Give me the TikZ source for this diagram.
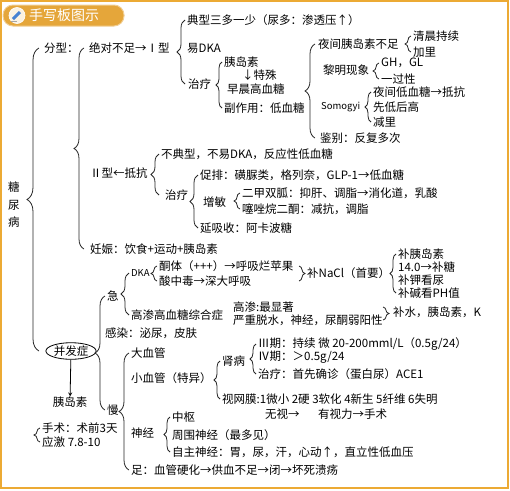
\documentclass[tikz,border=0pt]{standalone}
\usepackage{fontspec}
\setmainfont{Noto Sans CJK SC}
\usetikzlibrary{decorations.pathreplacing,shapes.geometric}
\definecolor{frameorange}{RGB}{236,170,52}
\definecolor{pillorange}{RGB}{229,166,58}
\definecolor{penblue}{RGB}{70,130,210}
\tikzset{
  txt/.style={anchor=west,inner sep=0pt,font=\fontsize{11.5}{13}\selectfont},
  brc/.style={decorate,decoration={brace,amplitude=8pt},draw=black!85,line width=0.8pt},
  brcS/.style={brc,decoration={brace,amplitude=6pt}},
  brcL/.style={brc,decoration={brace,amplitude=10pt}},
  brcX/.style={brc,decoration={brace,amplitude=12pt}},
  small/.style={font=\fontsize{9.5}{11}\selectfont},
}
\begin{document}
\begin{tikzpicture}[x=1pt,y=-1pt,every node/.style={txt}]
\useasboundingbox (0,0) rectangle (510,490);
% frame and title
\draw[frameorange,line width=2pt] (1,1) rectangle (508,488);
\draw[fill=pillorange,draw=pillorange!55!white,line width=1pt,rounded corners=10pt] (3,5) rectangle (124,26);
\draw[fill=pillorange!15!white,draw=white,line width=0.6pt] (17,15.5) circle (8);
\draw[penblue,line width=3pt] (13,19) -- (20,12);
\draw[gray!70,line width=0.8pt] (11,21) -- (17,21);
\node[font=\fontsize{14}{16}\selectfont,text=white] (ttl) at (29,15.5) {手写板图示};

\node[align=center,font=\fontsize{11.5}{17.5}\selectfont] (tnb) at (8,205) {糖\\尿\\病};
\node (fx) at (44,48) {分型：};
\node[draw,ellipse,anchor=center,inner sep=0.5pt,line width=0.8pt] (bfz) at (71,351) {并发症};
\draw[brcX] ([xshift=-5]fx.west |- bfz.west) -- ([xshift=-5]fx.west);

% 分型
\node (jd) at (89,48) {绝对不足→Ⅰ型};
\node (er) at (90,173) {Ⅱ型←抵抗};
\node (rs) at (90,249) {妊娠：饮食+运动+胰岛素};
\draw[brcL] ([xshift=-5]jd.west |- rs.west) -- ([xshift=-5]jd.west);

\node (dx) at (187,20) {典型三多一少（尿多：渗透压↑）};
\node (ydka) at (187,48) {易DKA};
\node (zl1) at (188,84) {治疗};
\draw[brc] ([xshift=-2]dx.west |- zl1.west) -- ([xshift=-2]dx.west);

\node (yds) at (224,62) {胰岛素};
\node (ts) at (242,75) {↓特殊};
\node (zc) at (227,89) {早晨高血糖};
\node (fzy) at (224,108) {副作用：低血糖};
\draw[brcS] ([xshift=-2]yds.west |- fzy.west) -- ([xshift=-2]yds.west);

\node (yj) at (318,44) {夜间胰岛素不足};
\node (lm) at (323,70) {黎明现象};
\node[small] (sm) at (321,107) {Somogyi};
\node (jb) at (320,138) {鉴别：反复多次};
\draw[brcL] ([xshift=-3]yj.west |- jb.west) -- ([xshift=-3]yj.west);

\node (qc) at (413,36) {清晨持续};
\node (jl) at (413,52) {加里};
\draw[brcS] ([xshift=-2]qc.west |- jl.west) -- ([xshift=-2]qc.west);
\node (gh) at (381,63) {GH，GL};
\node (ygx) at (381,79) {一过性};
\draw[brcS] ([xshift=-2]gh.west |- ygx.west) -- ([xshift=-2]gh.west);
\node (yjd) at (373,92) {夜间低血糖→抵抗};
\node (xd) at (373,107) {先低后高};
\node (jl2) at (373,122) {减里};
\draw[brcS] ([xshift=-2]yjd.west |- jl2.west) -- ([xshift=-2]yjd.west);

\node (bdx) at (161,154) {不典型，不易DKA，反应性低血糖};
\node (zl2) at (165,195) {治疗};
\draw[brc] ([xshift=-2]bdx.west |- zl2.west) -- ([xshift=-2]bdx.west);

\node (cp) at (200,175) {促排：磺脲类，格列奈，GLP-1→低血糖};
\node (zm) at (203,202) {增敏};
\node (ycs) at (200,228) {延吸收：阿卡波糖};
\draw[brc] ([xshift=-2]cp.west |- ycs.west) -- ([xshift=-2]cp.west);
\node (ej) at (242,193) {二甲双胍：抑肝、调脂→消化道，乳酸};
\node (st) at (242,209) {噻唑烷二酮：减抗，调脂};
\draw[brcS] ([xshift=-2]ej.west |- st.west) -- ([xshift=-2]ej.west);

% 并发症
\node (ji) at (107,296) {急};
\node (gr) at (105,333) {感染：泌尿，皮肤};
\node (man) at (107,410) {慢};
\draw[brcL] ([xshift=-2]ji.west |- man.west) -- ([xshift=-2]ji.west);

\node[anchor=center] (yds2) at (70,402) {胰岛素};
\draw[-stealth,line width=0.8pt] (bfz) -- (yds2);
\node (ss) at (42,428) {手术：术前3天};
\node (yjz) at (42,442) {应激 7.8-10};
\draw[brcS] ([xshift=-2]ss.west |- yjz.west) -- ([xshift=-2]ss.west);

\node[small] (dka) at (131,273) {DKA};
\node (gs) at (131,315) {高渗高血糖综合症};
\draw[brc] ([xshift=-2]gs.west |- gs.west) -- ([xshift=-2]gs.west |- dka.west);
\node (tt) at (159,266) {酮体（+++）→呼吸烂苹果};
\node (szd) at (159,281) {酸中毒→深大呼吸};
\draw[brcS] ([xshift=-2]tt.west |- szd.west) -- ([xshift=-2]tt.west);
\node (na) at (307,273) {补NaCl（首要）};
\draw[brcS] ([xshift=-8]na.west |- tt.west) -- ([xshift=-8]na.west |- szd.west);
\node (bys) at (398,254) {补胰岛素};
\node (bt) at (398,267) {14.0→补糖};
\node (bjn) at (398,280) {补钾看尿};
\node (bjj) at (398,293) {补碱看PH值};
\draw[brcS] ([xshift=-2]bys.west |- bjj.west) -- ([xshift=-2]bys.west);
\node (gszx) at (233,307) {高渗:最显著};
\node (yzts) at (233,320) {严重脱水，神经，尿酮弱阳性};
\node (bs) at (393,312) {补水，胰岛素，K};
\draw[brcS] ([xshift=-10]bs.west |- gszx.west) -- ([xshift=-10]bs.west |- yzts.west);

\node (dxg) at (131,353) {大血管};
\node (xxg) at (131,378) {小血管（特异）};
\node (sjj) at (131,433) {神经};
\node (zu) at (131,470) {足：血管硬化→供血不足→闭→坏死溃疡};
\draw[brcL] ([xshift=-2]dxg.west |- zu.west) -- ([xshift=-2]dxg.west);

\node (sb) at (222,361) {肾病};
\node (swm) at (222,399) {视网膜:1微小 2硬 3软化 4新生 5纤维 6失明};
\draw[brcS] ([xshift=-2]sb.west |- swm.west) -- ([xshift=-2]sb.west);
\node (ws) at (265,414) {无视→};
\node (ysl) at (318,414) {有视力→手术};
\node (s3) at (258,344) {Ⅲ期：持续 微 20-200mml/L（0.5g/24）};
\node (s4) at (258,357) {Ⅳ期：＞0.5g/24};
\node (zl3) at (258,374) {治疗：首先确诊（蛋白尿）ACE1};
\draw[brcS] ([xshift=-2]s3.west |- zl3.west) -- ([xshift=-2]s3.west);

\node (zs) at (172,417) {中枢};
\node (zw) at (172,435) {周围神经（最多见）};
\node (zz) at (172,452) {自主神经：胃，尿，汗，心动↑，直立性低血压};
\draw[brcS] ([xshift=-2]zs.west |- zz.west) -- ([xshift=-2]zs.west);
\end{tikzpicture}
\end{document}
